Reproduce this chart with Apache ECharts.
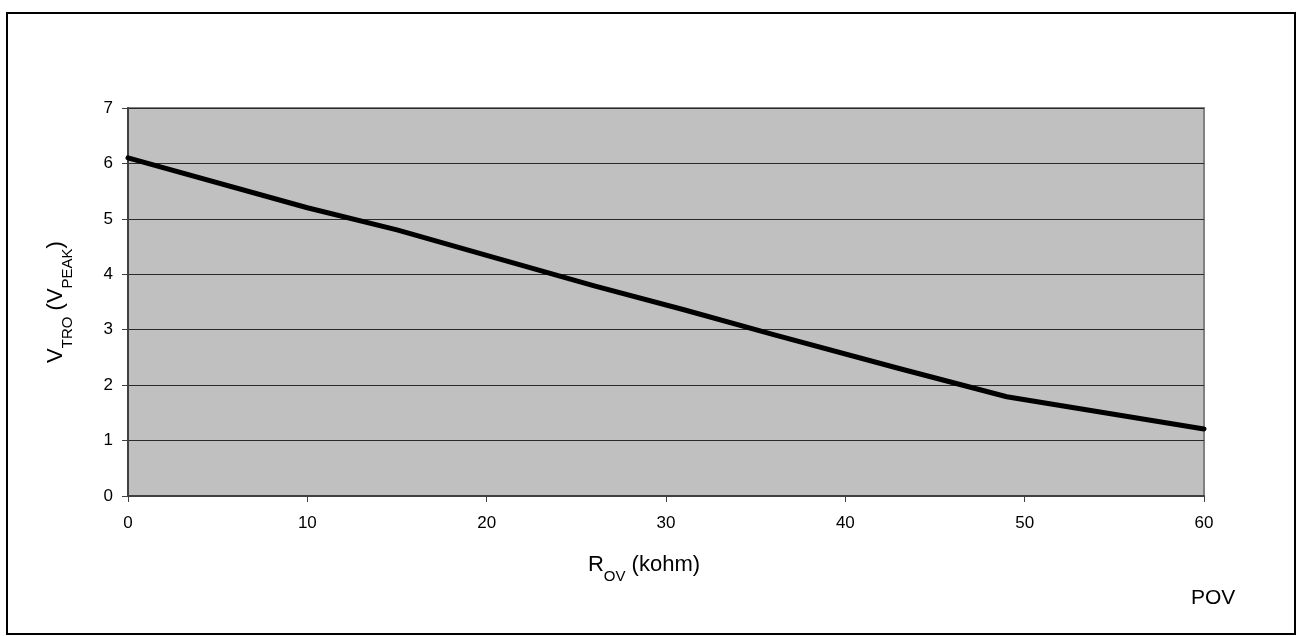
<!DOCTYPE html>
<html>
<head>
<meta charset="utf-8">
<script src="https://cdn.jsdelivr.net/npm/echarts@6/dist/echarts.min.js"></script>
<style>
html,body{margin:0;padding:0;background:#fff;}
#c{width:1297px;height:636px;}
</style>
</head>
<body>
<div id="c"></div>
<script>
var rovKohm = [0, 10, 15, 20, 26, 31, 36, 43, 49, 60];
var vtroPeak = [6.1, 5.2, 4.8, 4.34, 3.79, 3.36, 2.91, 2.3, 1.79, 1.21];
var xTicks = [0, 10, 20, 30, 40, 50, 60];
var yTicks = [0, 1, 2, 3, 4, 5, 6, 7];

var seriesData = rovKohm.map(function (x, i) { return [x, vtroPeak[i]]; });
var FONT = '"Liberation Sans", Arial, sans-serif';

var rich = {
  m: { fontSize: 22, fontFamily: FONT, color: '#000', lineHeight: 22, verticalAlign: 'top' },
  s: { fontSize: 15, fontFamily: FONT, color: '#000', lineHeight: 30, verticalAlign: 'bottom' }
};

var chart = echarts.init(document.getElementById('c'), null, { renderer: 'canvas' });
chart.setOption({
  animation: false,
  backgroundColor: '#ffffff',
  grid: {
    left: 128, right: 93, top: 108, bottom: 140,
    show: true, backgroundColor: '#c0c0c0', borderColor: '#808080', borderWidth: 2
  },
  xAxis: {
    type: 'value', min: xTicks[0], max: xTicks[xTicks.length - 1], interval: 10,
    name: '{m|R}{s|OV}{m| (kohm)}',
    nameLocation: 'middle', nameGap: 58,
    nameTextStyle: { rich: rich, padding: [0, 44, 0, 0] },
    axisLine: { show: true, onZero: false, lineStyle: { color: '#404040', width: 2 } },
    axisTick: { show: true, length: 6, lineStyle: { color: '#404040', width: 1 } },
    axisLabel: { margin: 19, fontSize: 17, fontFamily: FONT, color: '#000' },
    splitLine: { show: false }
  },
  yAxis: {
    type: 'value', min: yTicks[0], max: yTicks[yTicks.length - 1], interval: 1,
    name: '{m|V}{s|TRO}{m| (V}{s|PEAK}{m|)}',
    nameLocation: 'middle', nameGap: 53,
    nameTextStyle: { rich: rich },
    axisLine: { show: true, onZero: false, lineStyle: { color: '#404040', width: 2 } },
    axisTick: { show: true, length: 6, lineStyle: { color: '#404040', width: 1 } },
    axisLabel: { margin: 15, fontSize: 17, fontFamily: FONT, color: '#000' },
    splitLine: { show: true, lineStyle: { color: '#2a2a2a', width: 1 } }
  },
  series: [{
    type: 'line',
    data: seriesData,
    showSymbol: false,
    symbol: 'none',
    lineStyle: { color: '#000', width: 5, cap: 'round', join: 'round' },
    z: 5
  }],
  graphic: [
    {
      type: 'rect', shape: { x: 7, y: 13, width: 1288, height: 621 },
      style: { fill: 'none', stroke: '#000', lineWidth: 2 }, silent: true, z: 100
    },
    {
      type: 'text', left: 1191, top: 588,
      style: { text: 'POV', font: '21px "Liberation Sans", Arial, sans-serif', fill: '#000' }
    }
  ]
});
</script>
</body>
</html>
